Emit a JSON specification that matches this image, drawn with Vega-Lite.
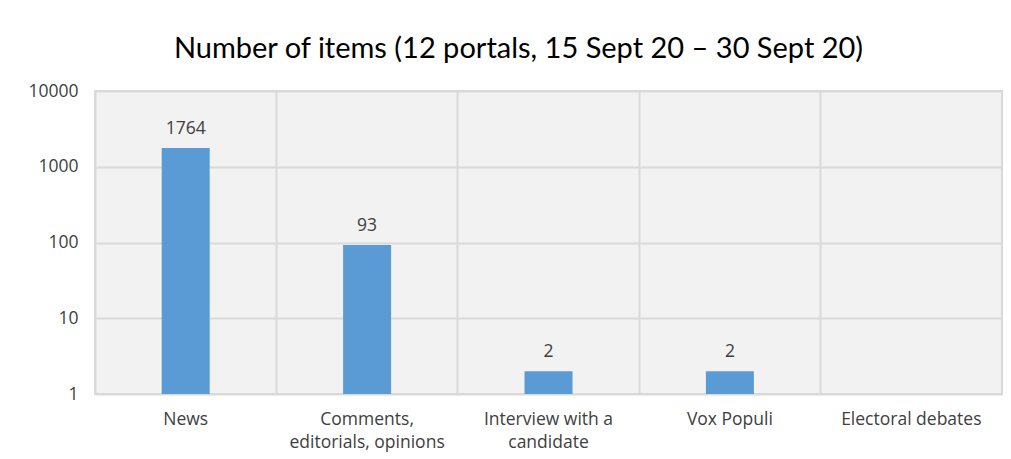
{
  "$schema": "https://vega.github.io/schema/vega-lite/v6.json",
  "width": 907,
  "height": 303,
  "autosize": {"type": "none"},
  "padding": {"left": 95, "top": 91, "right": 9, "bottom": 65},
  "background": "white",
  "config": {
    "view": {"fill": "#f2f2f2", "stroke": "#d9d9d9", "strokeWidth": 2},
    "font": "Open Sans"
  },
  "title": {
    "text": "Number of items (12 portals, 15 Sept 20 – 30 Sept 20)",
    "font": "Lato",
    "fontSize": 29,
    "fontWeight": "normal",
    "color": "#000000",
    "anchor": "middle",
    "frame": "group",
    "dx": -30,
    "baseline": "alphabetic",
    "offset": -5
  },
  "data": {
    "values": [
      {"category": "News", "count": 1764},
      {"category": "Comments, editorials, opinions", "count": 93},
      {"category": "Interview with a candidate", "count": 2},
      {"category": "Vox Populi", "count": 2},
      {"category": "Electoral debates", "count": 0}
    ]
  },
  "encoding": {
    "x": {
      "field": "category",
      "type": "nominal",
      "sort": null,
      "scale": {
        "domain": ["News", "Comments, editorials, opinions", "Interview with a candidate", "Vox Populi", "Electoral debates"],
        "paddingInner": 0,
        "paddingOuter": 0
      },
      "axis": {
        "title": null,
        "labelAngle": 0,
        "domain": false,
        "ticks": false,
        "grid": true,
        "bandPosition": 0,
        "gridColor": "#d9d9d9",
        "gridWidth": 2,
        "labelFont": "Open Sans",
        "labelFontSize": 17.5,
        "labelColor": "#404040",
        "labelPadding": 16,
        "labelLineHeight": 23,
        "labelBaseline": "top",
        "labelExpr": "datum.value == 'Comments, editorials, opinions' ? ['Comments,', 'editorials, opinions'] : datum.value == 'Interview with a candidate' ? ['Interview with a', 'candidate'] : datum.value"
      }
    }
  },
  "layer": [
    {
      "transform": [{"filter": "datum.count > 0"}],
      "mark": {"type": "bar", "color": "#5b9bd5", "size": 48},
      "encoding": {
        "y": {
          "field": "count",
          "type": "quantitative",
          "scale": {"type": "log", "domain": [1, 10000], "nice": false},
          "axis": {
            "title": null,
            "values": [1, 10, 100, 1000, 10000],
            "format": "d",
            "domain": false,
            "ticks": false,
            "grid": true,
            "gridColor": "#d9d9d9",
            "gridWidth": 2,
            "labelFont": "Open Sans",
            "labelFontSize": 17.5,
            "labelColor": "#404040",
            "labelPadding": 17
          }
        },
        "y2": {"datum": 1}
      }
    },
    {
      "transform": [{"filter": "datum.count > 0"}],
      "mark": {"type": "text", "baseline": "bottom", "dy": -10, "font": "Open Sans", "fontSize": 17.5, "color": "#404040"},
      "encoding": {
        "y": {"field": "count", "type": "quantitative"},
        "text": {"field": "count", "type": "quantitative", "format": "d"}
      }
    }
  ]
}
